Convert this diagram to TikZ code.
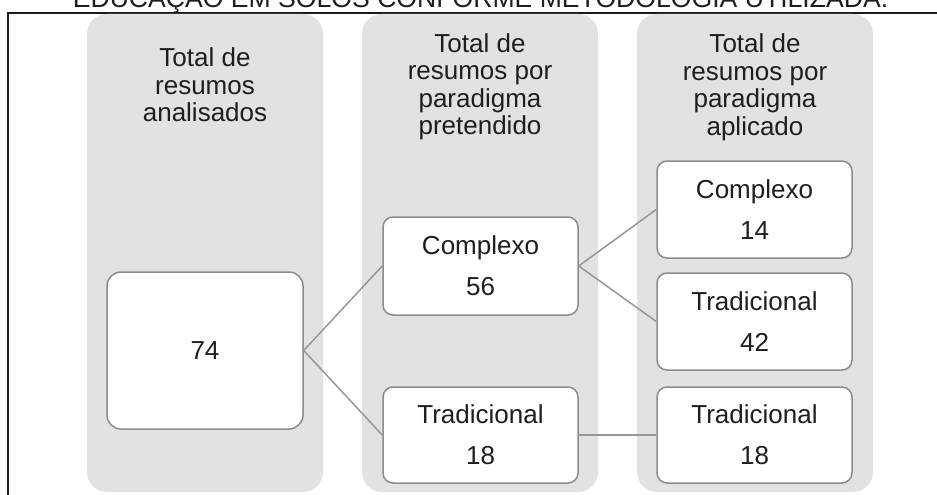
\documentclass[tikz,border=0pt]{standalone}
\usepackage{fontspec}
\setmainfont{Liberation Sans}
\definecolor{colgray}{HTML}{E1E2E4}
\definecolor{boxline}{HTML}{8C8C8C}
\definecolor{linkgray}{HTML}{979797}
\definecolor{txt}{HTML}{1E1E1E}
\definecolor{framec}{HTML}{1A1A1A}
\begin{document}
\begin{tikzpicture}[x=1pt,y=-1pt,
  colbg/.style={fill=colgray, draw=none, rounded corners=20pt},
  box/.style={draw=boxline, line width=1.5pt, fill=white, rounded corners=10pt, inner sep=0pt, align=center, font=\fontsize{26}{41}\selectfont, text=txt, minimum width=195pt},
  hdr/.style={align=center, font=\fontsize{26}{27.5}\selectfont, text=txt, inner sep=0pt, anchor=north},
  link/.style={draw=linkgray, line width=1.5pt}]
\useasboundingbox (0,0) rectangle (937,495);
% title (cut off at top)
\node[anchor=base, font=\fontsize{26.6}{30}\selectfont, text=txt, inner sep=0pt] (title) at (480.5,7.5) {EDUCAÇÃO EM SOLOS CONFORME METODOLOGIA UTILIZADA.};
% frame
\draw[line width=2pt, framec] (7.5,520) -- (7.5,13) -- (960,13);
% columns
\fill[colbg] (87,14) rectangle (323,492);
\fill[colbg] (362,14) rectangle (598,492);
\fill[colbg] (637,14) rectangle (873,492);
% headers
\node[hdr] (h1) at (205,47.5) {Total de\\resumos\\analisados};
\node[hdr] (h2) at (480,33) {Total de\\resumos por\\paradigma\\pretendido};
\node[hdr] (h3) at (755,33.5) {Total de\\resumos por\\paradigma\\aplicado};
% boxes
\node[box, minimum width=196pt, minimum height=157pt, rounded corners=14pt] (n74) at (205,350.5) {74};
\node[box, minimum height=98pt] (c56) at (480.5,266) {Complexo\\56};
\node[box, minimum height=96pt] (t18a) at (480.5,435) {Tradicional\\18};
\node[box, minimum height=97pt] (c14) at (754.5,209.5) {Complexo\\14};
\node[box, minimum height=97pt] (t42) at (754.5,321.5) {Tradicional\\42};
\node[box, minimum height=96pt] (t18b) at (754.5,435) {Tradicional\\18};
% connectors
\draw[link] (n74.east) -- (c56.west);
\draw[link] (n74.east) -- (t18a.west);
\draw[link] (c56.east) -- (c14.west);
\draw[link] (c56.east) -- (t42.west);
\draw[link] (t18a.east) -- (t18b.west);
\end{tikzpicture}
\end{document}
